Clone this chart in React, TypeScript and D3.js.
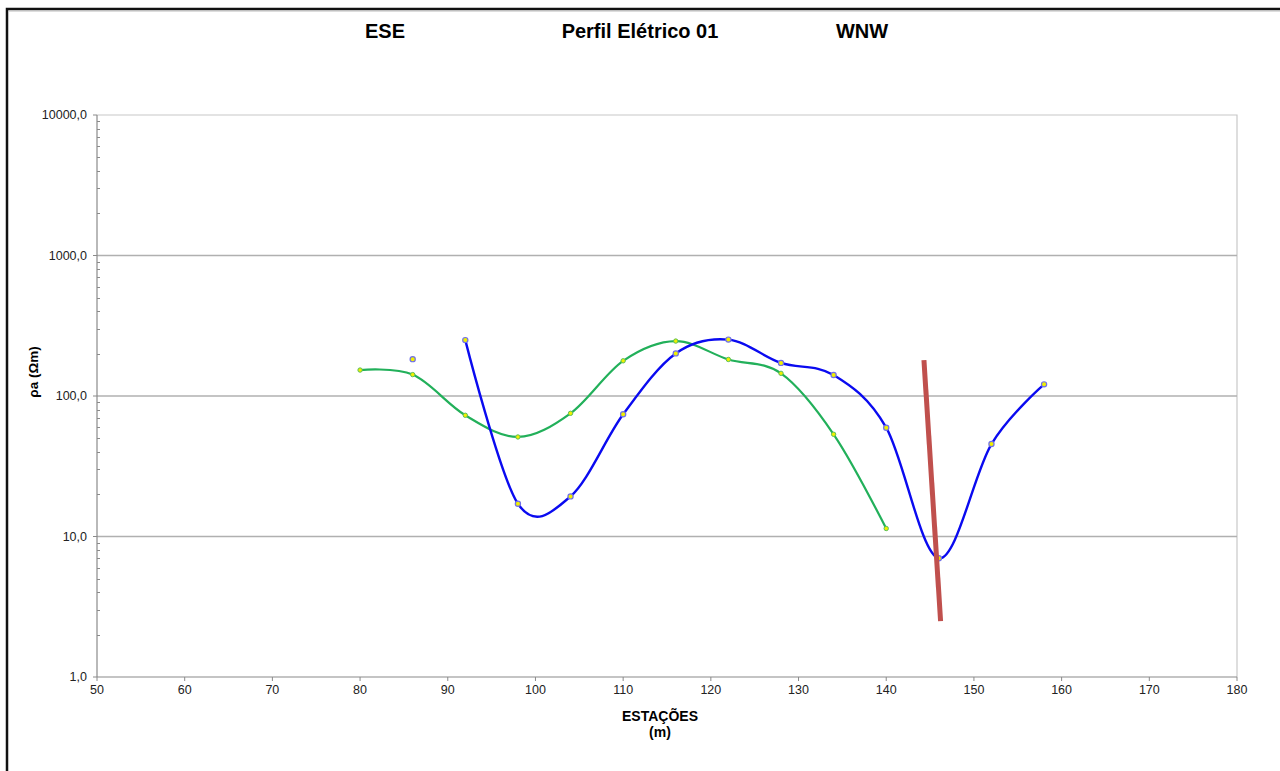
import React, { useEffect, useRef } from 'react';
import * as d3 from 'd3';

// estações (m) e resistividade aparente (ohm.m)
const greenStations = [80, 86, 92, 98, 104, 110, 116, 122, 128, 134, 140];
const greenRho = [153, 142, 72.9, 51.1, 75.3, 178, 246, 182, 145, 53.4, 11.4];

const blueStations = [86, 92, 98, 104, 110, 116, 122, 128, 134, 140, 146, 152, 158];
const blueRho = [183, 250, 17.1, 19.3, 74.1, 201, 252, 172, 141, 59.5, 7.0, 45.5, 121];

// traço da falha
const faultStations = [144.3, 146.2];
const faultRho = [180, 2.5];

const xTicks = [50, 60, 70, 80, 90, 100, 110, 120, 130, 140, 150, 160, 170, 180];
const yTicks = [1, 10, 100, 1000, 10000];

const App = () => {
  const ref = useRef(null);

  useEffect(() => {
    const svg = d3.select(ref.current);
    svg.selectAll('*').remove();

    const left = 97, right = 1237, top = 115, bottom = 677;
    const font = '"Liberation Sans", Arial, sans-serif';

    const x = d3.scaleLinear().domain([50, 180]).range([left, right]);
    const y = d3.scaleLog().domain([1, 10000]).range([bottom, top]);

    // moldura
    svg.append('path')
      .attr('d', `M7,771 V9 H1280`)
      .attr('fill', 'none')
      .attr('stroke', '#111')
      .attr('stroke-width', 2.5);
    svg.append('line')
      .attr('x1', 9).attr('x2', 1280).attr('y1', 11).attr('y2', 11)
      .attr('stroke', '#bbb').attr('stroke-width', 1);

    // borda da área do gráfico
    svg.append('path')
      .attr('d', `M${left},${top} H${right} V${bottom}`)
      .attr('fill', 'none')
      .attr('stroke', '#c8c8c8')
      .attr('stroke-width', 1.2);

    // grades horizontais
    svg.append('g')
      .selectAll('line')
      .data(yTicks.slice(1, -1))
      .join('line')
      .attr('x1', left).attr('x2', right)
      .attr('y1', d => y(d)).attr('y2', d => y(d))
      .attr('stroke', '#b0b0b0')
      .attr('stroke-width', 1.5);

    // eixo Y
    const minor = [];
    for (let p = 0; p < 4; p++) for (let k = 2; k <= 9; k++) minor.push(k * Math.pow(10, p));
    const gy = svg.append('g').attr('stroke', '#8a8a8a');
    gy.append('line').attr('x1', left).attr('x2', left).attr('y1', top).attr('y2', bottom).attr('stroke-width', 1.2);
    gy.selectAll('.mj').data(yTicks).join('line')
      .attr('x1', left - 4).attr('x2', left)
      .attr('y1', d => y(d)).attr('y2', d => y(d));
    gy.selectAll('.mn').data(minor).join('line')
      .attr('x1', left).attr('x2', left + 3)
      .attr('y1', d => Math.round(y(d)) + 0.5).attr('y2', d => Math.round(y(d)) + 0.5);

    svg.append('g')
      .selectAll('text')
      .data(yTicks)
      .join('text')
      .attr('x', left - 10)
      .attr('y', d => y(d) + 4)
      .attr('text-anchor', 'end')
      .attr('font-family', font)
      .attr('font-size', 12.5)
      .attr('fill', '#222')
      .text(d => d.toFixed(1).replace('.', ','));

    // eixo X
    const gx = svg.append('g').attr('stroke', '#8a8a8a');
    gx.append('line').attr('x1', left).attr('x2', right).attr('y1', bottom).attr('y2', bottom).attr('stroke-width', 1.2);
    gx.selectAll('line.t').data(xTicks).join('line')
      .attr('x1', d => x(d)).attr('x2', d => x(d))
      .attr('y1', bottom).attr('y2', bottom + 4);

    svg.append('g')
      .selectAll('text')
      .data(xTicks)
      .join('text')
      .attr('x', d => x(d))
      .attr('y', bottom + 17)
      .attr('text-anchor', 'middle')
      .attr('font-family', font)
      .attr('font-size', 12.5)
      .attr('fill', '#222')
      .text(d => d);

    // títulos
    const titles = [['ESE', 385], ['Perfil Elétrico 01', 640], ['WNW', 862]];
    svg.append('g')
      .selectAll('text')
      .data(titles)
      .join('text')
      .attr('x', d => d[1])
      .attr('y', 38)
      .attr('text-anchor', 'middle')
      .attr('font-family', font)
      .attr('font-weight', 'bold')
      .attr('font-size', 20)
      .attr('fill', '#000')
      .text(d => d[0]);

    svg.append('text')
      .attr('x', 660).attr('y', 721)
      .attr('text-anchor', 'middle')
      .attr('font-family', font).attr('font-weight', 'bold').attr('font-size', 14)
      .text('ESTAÇÕES');
    svg.append('text')
      .attr('x', 660).attr('y', 737)
      .attr('text-anchor', 'middle')
      .attr('font-family', font).attr('font-weight', 'bold').attr('font-size', 14)
      .text('(m)');

    svg.append('text')
      .attr('transform', 'translate(38,372) rotate(-90)')
      .attr('text-anchor', 'middle')
      .attr('font-family', font).attr('font-weight', 'bold').attr('font-size', 13.5)
      .text('ρa (Ωm)');

    const line = d3.line()
      .x(d => x(d[0]))
      .y(d => y(d[1]))
      .curve(d3.curveCatmullRom.alpha(0));

    const green = greenStations.map((s, i) => [s, greenRho[i]]);
    const blue = blueStations.map((s, i) => [s, blueRho[i]]);

    svg.append('path')
      .datum(green)
      .attr('d', line)
      .attr('fill', 'none')
      .attr('stroke', '#22b05a')
      .attr('stroke-width', 2.2);

    // primeiro ponto azul fica isolado
    svg.append('path')
      .datum(blue.slice(1))
      .attr('d', line)
      .attr('fill', 'none')
      .attr('stroke', '#0a0af0')
      .attr('stroke-width', 2.4);

    svg.append('g')
      .selectAll('circle')
      .data(green)
      .join('circle')
      .attr('cx', d => x(d[0]))
      .attr('cy', d => y(d[1]))
      .attr('r', 2.2)
      .attr('fill', '#f0f000')
      .attr('stroke', '#5ac05a')
      .attr('stroke-width', 1);

    svg.append('g')
      .selectAll('circle')
      .data(blue)
      .join('circle')
      .attr('cx', d => x(d[0]))
      .attr('cy', d => y(d[1]))
      .attr('r', 2.6)
      .attr('fill', '#f0f000')
      .attr('stroke', '#7070e8')
      .attr('stroke-width', 1.2);

    // falha
    svg.append('path')
      .datum(faultStations.map((s, i) => [s, faultRho[i]]))
      .attr('d', d3.line().x(d => x(d[0])).y(d => y(d[1])))
      .attr('stroke', '#c0504d')
      .attr('stroke-width', 5);
  }, []);

  return (
    <svg ref={ref} width={1280} height={771}
      style={{ position: 'absolute', left: 0, top: 0, background: '#fff' }} />
  );
};

export default App;
